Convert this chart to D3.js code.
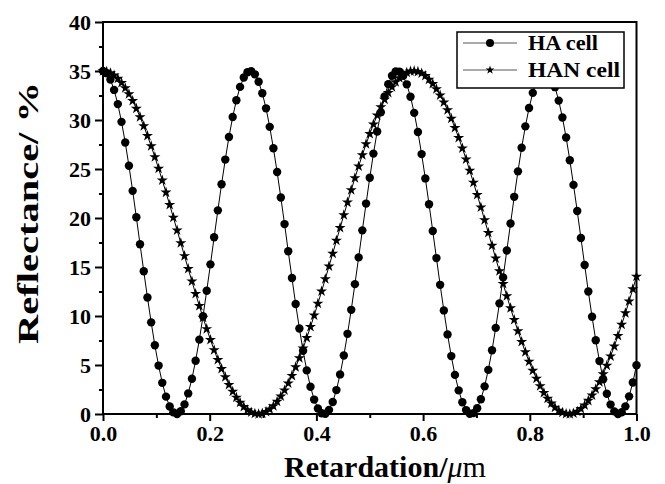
<!DOCTYPE html>
<html>
<head>
<meta charset="utf-8">
<script src="https://cdn.jsdelivr.net/npm/d3@7"></script>
<style>
  html, body { margin: 0; padding: 0; background: #fff; }
  svg { display: block; }
  text { font-family: "Liberation Serif", "Times New Roman", serif; }
</style>
</head>
<body>
<svg id="chart" width="665" height="484"></svg>
<script>
// ---- Data ----
const retardation = [
  0.0000,0.0069,0.0139,0.0208,0.0278,0.0347,0.0417,0.0486,0.0556,0.0625,
  0.0694,0.0764,0.0833,0.0903,0.0972,0.1042,0.1111,0.1181,0.1250,0.1319,
  0.1389,0.1458,0.1528,0.1597,0.1667,0.1736,0.1806,0.1875,0.1944,0.2014,
  0.2083,0.2153,0.2222,0.2292,0.2361,0.2431,0.2500,0.2569,0.2639,0.2708,
  0.2778,0.2847,0.2917,0.2986,0.3056,0.3125,0.3194,0.3264,0.3333,0.3403,
  0.3472,0.3542,0.3611,0.3681,0.3750,0.3819,0.3889,0.3958,0.4028,0.4097,
  0.4167,0.4236,0.4306,0.4375,0.4444,0.4514,0.4583,0.4653,0.4722,0.4792,
  0.4861,0.4931,0.5000,0.5069,0.5139,0.5208,0.5278,0.5347,0.5417,0.5486,
  0.5556,0.5625,0.5694,0.5764,0.5833,0.5903,0.5972,0.6042,0.6111,0.6181,
  0.6250,0.6319,0.6389,0.6458,0.6528,0.6597,0.6667,0.6736,0.6806,0.6875,
  0.6944,0.7014,0.7083,0.7153,0.7222,0.7292,0.7361,0.7431,0.7500,0.7569,
  0.7639,0.7708,0.7778,0.7847,0.7917,0.7986,0.8056,0.8125,0.8194,0.8264,
  0.8333,0.8403,0.8472,0.8542,0.8611,0.8681,0.8750,0.8819,0.8889,0.8958,
  0.9028,0.9097,0.9167,0.9236,0.9306,0.9375,0.9444,0.9514,0.9583,0.9653,
  0.9722,0.9792,0.9861,0.9931,1.0000
];

const haCell = [
  35.00,34.78,34.13,33.07,31.62,29.81,27.70,25.33,22.77,20.08,
  17.32,14.57,11.89,9.35,7.01,4.94,3.18,1.77,0.76,0.17,
  0.00,0.28,0.98,2.10,3.60,5.44,7.59,9.98,12.57,15.27,
  18.03,20.78,23.44,25.96,28.27,30.31,32.02,33.38,34.34,34.88,
  34.99,34.66,33.90,32.73,31.19,29.30,27.11,24.69,22.09,19.38,
  16.61,13.87,11.22,8.73,6.45,4.45,2.78,1.47,0.57,0.08,
  0.03,0.42,1.23,2.44,4.04,5.97,8.18,10.63,13.25,15.98,
  18.74,21.47,24.10,26.57,28.82,30.78,32.41,33.66,34.52,34.95,
  34.94,34.50,33.64,32.37,30.73,28.77,26.52,24.04,21.41,18.67,
  15.91,13.18,10.57,8.12,5.91,3.99,2.41,1.20,0.40,0.03,
  0.09,0.58,1.50,2.82,4.50,6.51,8.79,11.29,13.94,16.68,
  19.44,22.16,24.76,27.17,29.35,31.22,32.77,33.92,34.67,34.99,
  34.87,34.32,33.35,31.98,30.26,28.21,25.90,23.38,20.71,17.96,
  15.20,12.50,9.92,7.53,5.40,3.55,2.06,0.96,0.27,0.00,
  0.18,0.78,1.80,3.21,4.98
];

const hanCell = [
  35.00,34.95,34.80,34.56,34.22,33.79,33.26,32.64,31.95,31.17,
  30.31,29.38,28.39,27.34,26.23,25.05,23.85,22.61,21.34,20.05,
  18.75,17.44,16.13,14.82,13.54,12.27,11.03,9.83,8.68,7.57,
  6.52,5.53,4.61,3.76,2.99,2.29,1.69,1.17,0.74,0.41,
  0.18,0.04,0.00,0.06,0.22,0.47,0.82,1.26,1.80,2.42,
  3.13,3.91,4.78,5.71,6.71,7.78,8.89,10.06,11.27,12.51,
  13.78,15.07,16.38,17.69,18.99,20.30,21.59,22.85,24.08,25.28,
  26.43,27.54,28.58,29.56,30.47,31.31,32.09,32.77,33.37,33.88,
  34.29,34.61,34.84,34.97,35.00,34.93,34.76,34.50,34.14,33.69,
  33.15,32.52,31.80,31.01,30.14,29.20,28.18,27.12,26.00,24.83,
  23.61,22.37,21.10,19.80,18.50,17.19,15.88,14.58,13.29,12.03,
  10.80,9.61,8.46,7.36,6.33,5.35,4.44,3.61,2.85,2.17,
  1.58,1.08,0.67,0.36,0.14,0.03,0.00,0.08,0.26,0.53,
  0.90,1.36,1.91,2.55,3.27,4.07,4.95,5.90,6.91,7.99,
  9.12,10.29,11.50,12.75,14.03
];

const xTicks = [0.0, 0.2, 0.4, 0.6, 0.8, 1.0];
const xMinorTicks = [0.1, 0.3, 0.5, 0.7, 0.9];
const yTicks = [0, 5, 10, 15, 20, 25, 30, 35, 40];
const yMinorTicks = [2.5, 7.5, 12.5, 17.5, 22.5, 27.5, 32.5, 37.5];
const seriesNames = ["HA cell", "HAN cell"];

// ---- Layout ----
const svg = d3.select("#chart");
const pLeft = 103, pRight = 636.5, pTop = 22, pBottom = 414;

const x = d3.scaleLinear().domain([0, 1]).range([pLeft, pRight]);
const y = d3.scaleLinear().domain([0, 40]).range([pBottom, pTop]);

const haData = retardation.map((r, i) => ({ x: r, y: haCell[i] }));
const hanData = retardation.map((r, i) => ({ x: r, y: hanCell[i] }));

const line = d3.line().x(d => x(d.x)).y(d => y(d.y));
const star = d3.symbol().type(d3.symbolStar).size(38);
const starLegend = d3.symbol().type(d3.symbolStar).size(24);

// HAN series (drawn first)
svg.append("path").datum(hanData)
  .attr("d", line).attr("fill", "none").attr("stroke", "#000").attr("stroke-width", 1);
svg.append("g").selectAll("path").data(hanData).join("path")
  .attr("d", star)
  .attr("transform", d => `translate(${x(d.x)},${y(d.y)})`)
  .attr("fill", "#000");

// HA series
svg.append("path").datum(haData)
  .attr("d", line).attr("fill", "none").attr("stroke", "#000").attr("stroke-width", 1);
svg.append("g").selectAll("circle").data(haData).join("circle")
  .attr("cx", d => x(d.x)).attr("cy", d => y(d.y)).attr("r", 4.2)
  .attr("fill", "#000");

// ---- Axes ----
const xAxis = d3.axisBottom(x).tickValues(xTicks).tickSize(7).tickPadding(4)
  .tickFormat(d3.format(".1f"));
const xAxisMinor = d3.axisBottom(x).tickValues(xMinorTicks).tickSize(4).tickFormat("");
const yAxis = d3.axisLeft(y).tickValues(yTicks).tickSize(8).tickPadding(4)
  .tickFormat(d3.format("d"));
const yAxisMinor = d3.axisLeft(y).tickValues(yMinorTicks).tickSize(4).tickFormat("");

function styleAxis(g) {
  g.attr("font-family", null);
  g.select(".domain").remove();
  g.selectAll(".tick line").attr("stroke", "#000").attr("stroke-width", 2);
  g.selectAll(".tick text")
    .attr("fill", "#000")
    .style("font-family", '"Liberation Serif", serif')
    .style("font-weight", "bold")
    .style("font-size", "22px");
}

svg.append("g").attr("transform", `translate(0,${pBottom})`).call(xAxis).call(styleAxis);
svg.append("g").attr("transform", `translate(0,${pBottom})`).call(xAxisMinor).call(styleAxis);
svg.append("g").attr("transform", `translate(${pLeft},0)`).call(yAxis).call(styleAxis);
svg.append("g").attr("transform", `translate(${pLeft},0)`).call(yAxisMinor).call(styleAxis);

// Frame
svg.append("rect")
  .attr("x", pLeft).attr("y", pTop)
  .attr("width", pRight - pLeft).attr("height", pBottom - pTop)
  .attr("fill", "none").attr("stroke", "#000").attr("stroke-width", 2);

// ---- Axis titles ----
const xt = svg.append("text")
  .attr("x", 284).attr("y", 477)
  .attr("textLength", 202).attr("lengthAdjust", "spacingAndGlyphs")
  .style("font-size", "29px").attr("fill", "#000");
xt.append("tspan").style("font-weight", "bold").text("Retardation/");
xt.append("tspan").style("font-style", "italic").text("μ");
xt.append("tspan").text("m");

svg.append("text")
  .attr("transform", "translate(38,213) rotate(-90)")
  .attr("text-anchor", "middle")
  .attr("textLength", 262).attr("lengthAdjust", "spacingAndGlyphs")
  .style("font-size", "29px").style("font-weight", "bold").attr("fill", "#000")
  .text("Reflectance/ %");

// ---- Legend ----
const lg = svg.append("g");
lg.append("rect").attr("x", 457).attr("y", 32).attr("width", 167).attr("height", 56)
  .attr("fill", "#fff").attr("stroke", "#000").attr("stroke-width", 1.5);
const rows = [43, 70];
const legendWidths = [70, 92];
seriesNames.forEach((name, i) => {
  const cy = rows[i];
  lg.append("line").attr("x1", 463).attr("x2", 517).attr("y1", cy).attr("y2", cy)
    .attr("stroke", "#555").attr("stroke-width", 1);
  if (i === 0) {
    lg.append("circle").attr("cx", 490).attr("cy", cy).attr("r", 4).attr("fill", "#000");
  } else {
    lg.append("path").attr("d", starLegend).attr("transform", `translate(490,${cy})`).attr("fill", "#000");
  }
  lg.append("text").attr("x", 528).attr("y", cy + 7)
    .attr("textLength", legendWidths[i]).attr("lengthAdjust", "spacingAndGlyphs")
    .style("font-size", "21px").style("font-weight", "bold").attr("fill", "#000")
    .text(name);
});
</script>
</body>
</html>
